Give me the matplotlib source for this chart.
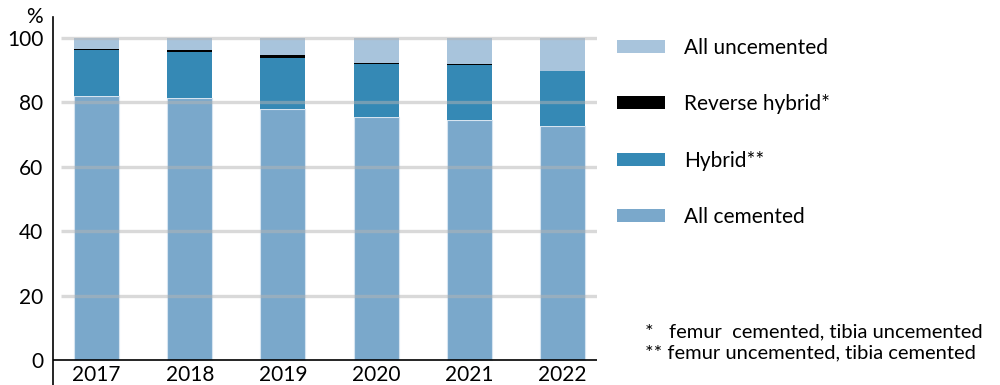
import matplotlib
matplotlib.use("Agg")
import matplotlib.pyplot as plt
from matplotlib.patches import Patch
import numpy as np

plt.rcParams['font.family'] = ['Lato', 'DejaVu Sans']

years = ["2017", "2018", "2019", "2020", "2021", "2022"]
all_cemented = [81.9, 81.2, 77.8, 75.4, 74.4, 72.5]
hybrid = [14.2, 14.3, 16.0, 16.3, 17.0, 17.0]
reverse_hybrid = [0.4, 0.6, 0.7, 0.3, 0.3, 0.3]
all_uncemented = [3.5, 3.9, 5.5, 8.0, 8.3, 10.2]

yticks = [0, 20, 40, 60, 80, 100]
legend_labels = ["All uncemented", "Reverse hybrid*", "Hybrid**", "All cemented"]
footnotes = ["*   femur  cemented, tibia uncemented", "** femur uncemented, tibia cemented"]

c_cem = "#7aa8cb"
c_hyb = "#3589b5"
c_rev = "#000000"
c_unc = "#a8c4dc"

FS = 15

fig = plt.figure(figsize=(10, 3.85), dpi=100)
ax = fig.add_axes([0.053, 0.0, 0.544, 368 / 385])

x = np.arange(len(years))
w = 0.483
ec = "#d6e4f0"
b1 = np.array(all_cemented)
b2 = b1 + np.array(hybrid)
b3 = b2 + np.array(reverse_hybrid)
ax.bar(x, all_cemented, w, color=c_cem, edgecolor=ec, linewidth=0.8, zorder=2)
ax.bar(x, hybrid, w, bottom=b1, color=c_hyb, linewidth=0, zorder=2)
ax.bar(x, reverse_hybrid, w, bottom=b2, color=c_rev, linewidth=0, zorder=2)
ax.bar(x, all_uncemented, w, bottom=b3, color=c_unc, linewidth=0, zorder=2)

ax.set_xlim(-0.467, 5.37)
ax.set_ylim(-7.75, 106.4)

ax.hlines(yticks[1:], -0.381, 5.37, colors="#b4b4b4", alpha=0.5, linewidth=2.4, zorder=3)
ax.axhline(0, color="black", linewidth=1.2, zorder=4)

for s in ["top", "right", "bottom"]:
    ax.spines[s].set_visible(False)
ax.spines["left"].set_linewidth(1.2)
ax.spines["left"].set_color("black")

ax.set_yticks(yticks)
ax.set_yticklabels([str(v) for v in yticks])
ax.tick_params(axis="y", length=0, pad=7, labelsize=FS)
ax.set_xticks([])
for xi, yr in zip(x, years):
    ax.text(xi, -7.6, yr, ha="center", va="bottom", fontsize=FS)

ax.text(-0.018, 1.0, "%", transform=ax.transAxes, ha="right", va="center", fontsize=FS)

handles = [Patch(facecolor=c_unc), Patch(facecolor=c_rev), Patch(facecolor=c_hyb), Patch(facecolor=c_cem)]
fig.legend(handles, legend_labels, loc="upper left", bbox_to_anchor=(0.617, 0.902),
           frameon=False, fontsize=FS, handlelength=2.3, handleheight=0.58,
           handletextpad=0.91, labelspacing=1.75, borderaxespad=0, borderpad=0)

fig.text(0.645, 1 - 332 / 385, footnotes[0], ha="left", va="center", fontsize=14.5)
fig.text(0.645, 1 - 353 / 385, footnotes[1], ha="left", va="center", fontsize=14.5)

fig.savefig("out.png", dpi=100)
